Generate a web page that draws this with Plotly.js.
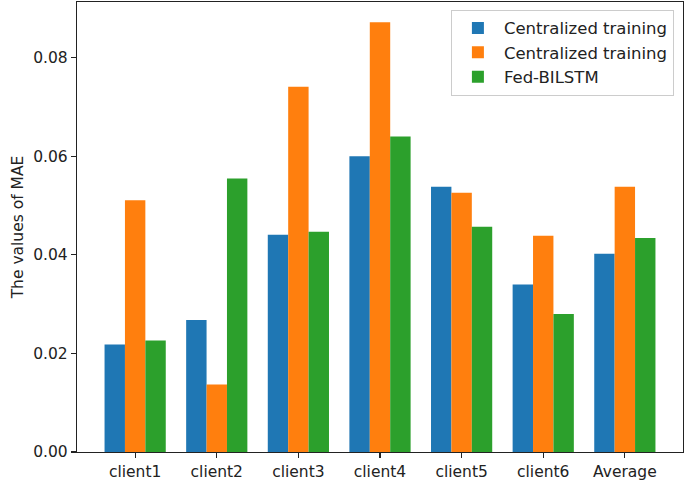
<!DOCTYPE html>
<html>
<head>
<meta charset="utf-8">
<script src="https://cdn.plot.ly/plotly-3.0.1.min.js"></script>
<style>
  html, body { margin: 0; padding: 0; background: #fff; }
  #chart { width: 685px; height: 483px; }
</style>
</head>
<body>
<div id="chart"></div>
<script>
// MAE per client, three methods
const clients = ["client1", "client2", "client3", "client4", "client5", "client6", "Average"];
const seriesNames = ["Centralized training", "Centralized training", "Fed-BILSTM"];
const centralizedA = [0.0218, 0.0268, 0.0441, 0.0600, 0.0538, 0.0340, 0.0402];
const centralizedB = [0.0511, 0.0137, 0.0741, 0.0872, 0.0526, 0.0439, 0.0538];
const fedBilstm    = [0.0226, 0.0555, 0.0447, 0.0640, 0.0457, 0.0280, 0.0434];
const yTicks = [0, 0.02, 0.04, 0.06, 0.08];

const colors = ["#1f77b4", "#ff7f0e", "#2ca02c"];
const FONT = "DejaVu Sans, sans-serif";

const traces = [centralizedA, centralizedB, fedBilstm].map((vals, i) => ({
  type: "bar",
  name: seriesNames[i],
  x: clients,
  y: vals,
  marker: { color: colors[i], line: { width: 0 } },
  hoverinfo: "skip",
}));

const axisBase = {
  showline: true, mirror: true, linecolor: "#222", linewidth: 1.2,
  ticks: "outside", ticklen: 5, tickwidth: 1.2, tickcolor: "#222",
  showgrid: false, zeroline: false,
  tickfont: { family: FONT, size: 15.5, color: "#222" },
};

const layout = {
  width: 685, height: 483,
  margin: { l: 77, r: 2, t: 2, b: 31 },
  paper_bgcolor: "#fff", plot_bgcolor: "#fff",
  font: { family: FONT, color: "#222" },
  barmode: "group", bargap: 0.25, bargroupgap: 0,
  showlegend: true,
  legend: {
    x: 0.985, y: 0.983, xanchor: "right", yanchor: "top",
    bgcolor: "rgba(255,255,255,0.8)", bordercolor: "#cccccc", borderwidth: 1,
    font: { family: FONT, size: 16.5, color: "#222" },
    tracegroupgap: 3, itemwidth: 42,
  },
  xaxis: { ...axisBase, type: "category", range: [-0.7125, 6.7125] },
  yaxis: {
    ...axisBase,
    range: [0, 0.0913],
    tickvals: yTicks,
    ticktext: yTicks.map(v => v.toFixed(2)),
    title: { text: "The values of MAE", font: { family: FONT, size: 15.5, color: "#222" }, standoff: 5 },
  },
};

Plotly.newPlot("chart", traces, layout, { staticPlot: true, displayModeBar: false });
</script>
</body>
</html>
